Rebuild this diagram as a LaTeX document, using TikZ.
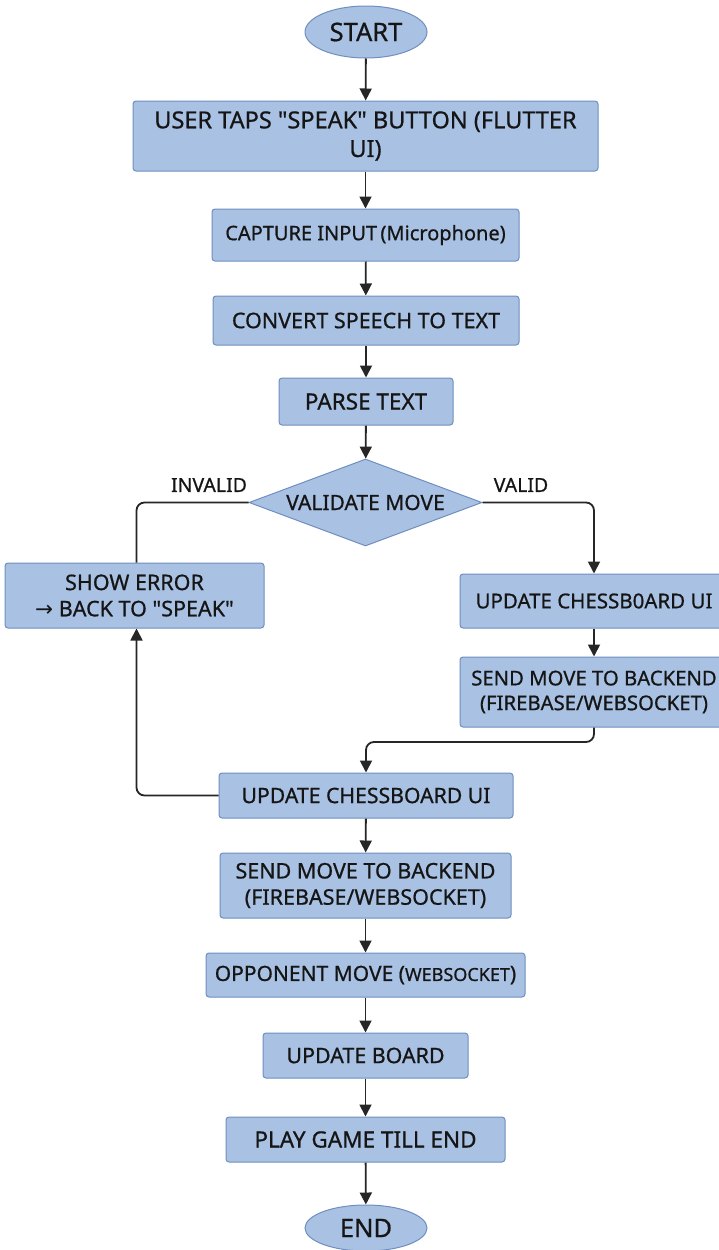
\documentclass[tikz,border=0pt]{standalone}
\usepackage{fontspec}
\setmainfont{Noto Sans}[Ligatures=TeXOff,FakeBold=0.7]
\newfontfamily\arrowfont{DejaVu Sans}
\usetikzlibrary{shapes.geometric,arrows.meta}
\definecolor{boxfill}{HTML}{A9C1E3}
\definecolor{boxline}{HTML}{6F8FC0}
\definecolor{txt}{HTML}{151515}
\newcommand{\fs}[1]{\fontsize{#1}{1.22\dimexpr#1pt\relax}\selectfont}
\tikzset{
  base/.style={fill=boxfill,draw=boxline,line width=1pt,text=txt,align=center,inner sep=0pt},
  procbox/.style={base,rectangle,rounded corners=3pt,font=\fs{21.5}},
  termbox/.style={base,ellipse,font=\fs{25.5}},
  decbox/.style={base,diamond,aspect=2.68,font=\fs{21}},
  conn/.style={line width=1.8pt,black!85,-{Triangle[length=12pt,width=12pt]}},
  elbow/.style={conn,rounded corners=8pt},
  plainline/.style={line width=1.8pt,black!85,rounded corners=8pt},
  lbl/.style={font=\fs{19.5},text=txt}
}
\begin{document}
\begin{tikzpicture}[x=1pt,y=-1pt]
\useasboundingbox (0,0) rectangle (719,1250);
\fill[white] (0,0) rectangle (719,1250);
\node[termbox,minimum width=122pt,minimum height=52pt] (start) at (366,32) {START};
\node[procbox,minimum width=465pt,minimum height=70pt,font=\fs{23.5}] (tap) at (365.5,136) {USER TAPS "SPEAK" BUTTON (FLUTTER\\UI)};
\node[procbox,minimum width=307pt,minimum height=52pt,font=\fs{20}] (cap) at (365.5,235) {CAPTURE INPUT\,(Microphone)};
\node[procbox,minimum width=306pt,minimum height=49pt] (conv) at (366,320.5) {CONVERT SPEECH TO TEXT};
\node[procbox,minimum width=174pt,minimum height=47pt,font=\fs{22.5}] (parse) at (366,401.5) {PARSE TEXT};
\node[decbox,minimum width=233pt,minimum height=87pt] (val) at (365.5,502.5) {VALIDATE MOVE};
\node[lbl] (linv) at (209,485) {INVALID};
\node[lbl] (lval) at (521,485) {VALID};
\node[procbox,minimum width=259pt,minimum height=65pt,font=\fs{21.5}] (err) at (134.5,595.5) {SHOW ERROR\\{\arrowfont →} BACK TO "SPEAK"};
\node[procbox,minimum width=268pt,minimum height=54pt,font=\fs{20.5}] (upr) at (594,601) {UPDATE CHESSB0ARD UI};
\node[procbox,minimum width=268pt,minimum height=70pt,font=\fs{20.3}] (sendr) at (594,692) {SEND MOVE TO BACKEND\\(FIREBASE/WEBSOCKET)};
\node[procbox,minimum width=294pt,minimum height=45pt,font=\fs{21.2}] (upc) at (366,795.5) {UPDATE CHESSBOARD UI};
\node[procbox,minimum width=291pt,minimum height=65pt,font=\fs{21.5}] (sendc) at (365.5,885.5) {SEND MOVE TO BACKEND\\(FIREBASE/WEBSOCKET)};
\node[procbox,minimum width=319pt,minimum height=44pt,font=\fs{21}] (opp) at (365.5,975) {OPPONENT MOVE ({\fs{18}WEBSOCKET})};
\node[procbox,minimum width=205pt,minimum height=45pt,font=\fs{21.4}] (ub) at (365.5,1055.5) {UPDATE BOARD};
\node[procbox,minimum width=279pt,minimum height=45pt,font=\fs{22.5}] (play) at (365.5,1139.5) {PLAY GAME TILL END};
\node[termbox,minimum width=122pt,minimum height=46pt] (end) at (366,1228) {END};
\coordinate (mid) at (594,742);
\draw[conn] (start) -- (tap);
\draw[conn] (tap) -- (cap);
\draw[conn] (cap) -- (conv);
\draw[conn] (conv) -- (parse);
\draw[conn] (parse) -- (val);
\draw[plainline] (val.west) -| ([xshift=2pt]err.north);
\draw[elbow] (val.east) -| (upr.north);
\draw[conn] (upr) -- (sendr);
\draw[elbow] (sendr.south) -- (mid) -| (upc.north);
\draw[elbow] (upc.west) -| ([xshift=2pt]err.south);
\draw[conn] (upc) -- (sendc);
\draw[conn] (sendc) -- (opp);
\draw[conn] (opp) -- (ub);
\draw[conn] (ub) -- (play);
\draw[conn] (play) -- (end);
\end{tikzpicture}
\end{document}
